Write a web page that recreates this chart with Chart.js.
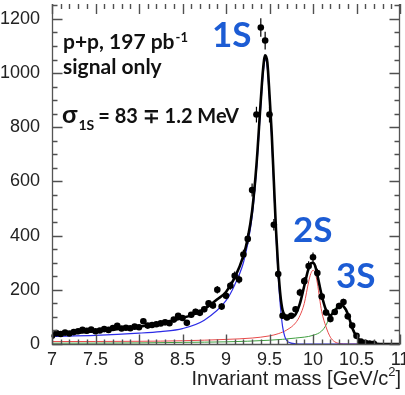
<!DOCTYPE html>
<html><head><meta charset="utf-8">
<script src="https://cdn.jsdelivr.net/npm/chart.js@4"></script>
<style>html,body{margin:0;padding:0;background:#fff;overflow:hidden}#wrap{width:405px;height:395px;position:relative}</style>
</head><body><div id="wrap"><canvas id="c" width="405" height="395"></canvas></div>
<script>
// ---- data ----
const xTicks = [7, 7.5, 8, 8.5, 9, 9.5, 10, 10.5, 11];
const yTicks = [0, 200, 400, 600, 800, 1000, 1200];

const pointX = [7.00,7.05,7.10,7.15,7.20,7.25,7.30,7.35,7.40,7.45,7.50,7.55,7.60,7.65,7.70,7.75,7.80,7.85,7.90,7.95,
  8.00,8.05,8.10,8.15,8.20,8.25,8.30,8.35,8.40,8.45,8.50,8.55,8.60,8.65,8.70,8.75,8.80,8.85,8.90,8.95,
  9.00,9.05,9.10,9.15,9.20,9.25,9.30,9.35,9.40,9.45,9.50,9.55,9.60,9.65,9.70,9.75,9.80,9.85,9.90,9.95,
  10.00,10.05,10.10,10.15,10.20,10.25,10.30,10.35,10.40,10.45,10.50,10.55,10.60,10.65,10.70];
const pointY = [30,40,37,42,39,44,47,52,49,53,47,50,55,52,59,67,57,60,58,64,
  62,84,68,70,73,76,80,77,90,104,96,78,108,119,115,128,150,142,200,138,
  178,215,252,238,330,388,568,847,1168,1120,847,440,258,104,98,104,128,190,232,288,
  320,262,175,116,92,118,140,155,102,68,30,9,4,2,1];
const pointErr = [5,6,6,6,6,7,7,7,7,7,7,7,7,7,8,8,8,8,8,8,
  8,9,8,8,9,9,9,9,9,10,10,9,10,11,11,11,12,12,14,12,
  13,15,16,15,18,20,24,29,34,33,29,21,16,10,10,10,11,14,15,17,
  18,16,13,11,10,11,12,12,10,8,5,3,2,1,1];

const fitX = [7.0,7.25,7.5,7.75,8.0,8.25,8.5,8.65,8.8,8.9,9.0,9.1,9.2,9.25,9.3,9.35,9.4,9.425,9.45,9.475,9.5,9.525,9.55,9.575,9.6,9.625,9.65,9.675,9.7,9.75,9.8,9.85,9.9,9.95,9.975,10.0,10.025,10.05,10.1,10.15,10.2,10.25,10.3,10.325,10.35,10.4,10.45,10.5,10.55,10.6,10.7,10.8,11.0];
const fitTotal = [34,40,47,55,64,76,96,112,140,165,192,245,325,390,490,660,900,1010,1066,1040,920,780,600,420,280,180,125,106,100,100,110,150,215,280,298,300,288,255,180,125,106,122,142,144,140,112,60,28,10,3,1,0,0];

const s1X = [7.0,7.5,8.0,8.25,8.5,8.75,9.0,9.1,9.2,9.25,9.3,9.35,9.4,9.425,9.45,9.475,9.5,9.525,9.55,9.575,9.6,9.625,9.65,9.675,9.7,9.75,9.8,9.9,11.0];
const s1Y = [28,32,40,46,57,88,160,218,300,370,470,640,880,990,1050,1020,900,760,580,400,250,140,65,28,12,3,1,0,0];

const s2X = [7.0,8.0,8.5,9.0,9.3,9.5,9.6,9.7,9.8,9.85,9.9,9.95,9.975,10.0,10.025,10.05,10.075,10.1,10.15,10.2,10.25,10.3,10.4,11.0];
const s2Y = [9,10,12,17,22,30,38,52,78,105,150,230,260,272,262,225,170,120,63,25,8,2,0,0];

const s3X = [7.0,8.0,8.5,9.0,9.5,9.8,10.0,10.1,10.15,10.2,10.25,10.3,10.325,10.35,10.4,10.45,10.5,10.55,10.6,10.7,11.0];
const s3Y = [3,4,6,8,14,22,32,48,70,105,130,140,139,135,108,65,28,9,3,1,0];

// ---- chart ----
const pts = (xs, ys) => xs.map((x, i) => ({x, y: ys[i]}));
const BLUE_TXT = 'rgb(28,92,212)';

function drawFrame(chart) {
  const ctx = chart.ctx;
  const a = chart.chartArea;
  const xs = chart.scales.x, ys = chart.scales.y;
  const L = a.left + 0.5, R = a.right - 0.5, B = a.bottom + 0.5, T = a.top;
  ctx.save();
  ctx.strokeStyle = '#555555';
  ctx.lineWidth = 1.3;
  ctx.beginPath();
  ctx.moveTo(L, T); ctx.lineTo(L, B); ctx.lineTo(R, B); ctx.lineTo(R, T);
  ctx.stroke();
  ctx.lineWidth = 1.4;
  ctx.strokeStyle = '#505050';
  for (let k = 0; k <= 40; k++) {
    const px = Math.round(xs.getPixelForValue(7 + k / 10)) + 0.5;
    const len = (k % 5 === 0) ? 10 : 5;
    ctx.beginPath();
    ctx.moveTo(px, B); ctx.lineTo(px, B - len);
    ctx.moveTo(px, T); ctx.lineTo(px, T + len);
    ctx.stroke();
  }
  for (let k = 0; k <= 25; k++) {
    const py = Math.round(ys.getPixelForValue(k * 50)) + 0.5;
    const len = (k % 4 === 0) ? 10 : 5;
    ctx.beginPath();
    ctx.moveTo(L, py); ctx.lineTo(L + len, py);
    ctx.moveTo(R, py); ctx.lineTo(R - len, py);
    ctx.stroke();
  }
  ctx.restore();
}

function drawErrors(chart) {
  const ctx = chart.ctx;
  const xs = chart.scales.x, ys = chart.scales.y;
  ctx.save();
  ctx.strokeStyle = '#000'; ctx.lineWidth = 1.2;
  ctx.beginPath();
  pointX.forEach((xv, i) => {
    const px = xs.getPixelForValue(xv);
    ctx.moveTo(px, ys.getPixelForValue(pointY[i] - pointErr[i]));
    ctx.lineTo(px, ys.getPixelForValue(pointY[i] + pointErr[i]));
  });
  ctx.stroke();
  ctx.restore();
}

function drawTexts(chart) {
  const ctx = chart.ctx;
  ctx.save();
  ctx.textBaseline = 'alphabetic';
  ctx.textAlign = 'left';
  ctx.fillStyle = '#111';
  ctx.font = 'bold 21px Lato';
  const t = 'p+p, 197 pb';
  ctx.fillText(t, 63, 49);
  const w = ctx.measureText(t).width;
  ctx.font = 'bold 13px Lato';
  ctx.fillText('-1', 63 + w + 1, 42);
  ctx.font = 'bold 21px Lato';
  ctx.fillText('signal only', 63, 74);
  ctx.font = 'bold 25px Lato';
  ctx.fillText('σ', 62, 123);
  let x0 = 62 + ctx.measureText('σ').width + 1;
  ctx.font = 'bold 14px Lato';
  ctx.fillText('1S', x0, 130);
  x0 += ctx.measureText('1S').width + 4;
  ctx.font = 'bold 20px Lato';
  ctx.fillText('= 83 ∓ 1.2 MeV', x0, 123);
  ctx.fillStyle = BLUE_TXT;
  ctx.font = 'bold 35px Lato';
  ctx.fillText('1S', 212, 47);
  ctx.fillText('2S', 293, 242);
  ctx.fillText('3S', 336, 288);
  ctx.fillStyle = '#222';
  const big = '20px "Liberation Sans"', small = '13px "Liberation Sans"';
  ctx.font = big;
  const wb = ctx.measureText(']').width;
  ctx.font = small;
  const ws = ctx.measureText('2').width;
  ctx.font = big;
  const main = 'Invariant mass [GeV/c';
  const wm = ctx.measureText(main).width;
  const right = 401;
  const start = right - wb - ws - wm;
  ctx.fillText(main, start, 385);
  ctx.fillText(']', right - wb, 385);
  ctx.font = small;
  ctx.fillText('2', start + wm, 376);
  ctx.restore();
}

const framePlugin = {
  id: 'frame',
  afterDraw(chart) {
    drawErrors(chart);
    drawFrame(chart);
    drawTexts(chart);
  }
};

const lineDs = (label, xs, ys, color, width) => ({
  label, data: pts(xs, ys), showLine: true, borderColor: color, borderWidth: width,
  pointRadius: 0, pointHoverRadius: 0, fill: false, cubicInterpolationMode: 'monotone'
});

const zeroPad = s => { s.paddingTop = 0; s.paddingBottom = 0; s.paddingLeft = 0; s.paddingRight = 0; };

new Chart(document.getElementById('c'), {
  type: 'scatter',
  data: {
    datasets: [
      {label: 'data', data: pts(pointX, pointY), pointRadius: 3.3, pointBackgroundColor: '#000', pointBorderColor: '#000', pointBorderWidth: 0, showLine: false},
      lineDs('total', fitX, fitTotal, '#000', 2.6),
      lineDs('1S', s1X, s1Y, '#2b2be6', 1.2),
      lineDs('2S', s2X, s2Y, '#e84a4a', 1),
      lineDs('3S', s3X, s3Y, '#3f9f3f', 1)
    ]
  },
  options: {
    responsive: false, animation: false, devicePixelRatio: 1,
    layout: {padding: {left: 0, right: 5, top: 0, bottom: 0}},
    plugins: {legend: {display: false}, tooltip: {enabled: false}},
    scales: {
      x: {
        type: 'linear', min: 7, max: 11,
        afterBuildTicks: s => { s.ticks = xTicks.map(v => ({value: v})); },
        afterFit: s => { s.height = 51; zeroPad(s); },
        grid: {display: false}, border: {display: false},
        ticks: {autoSkip: false, maxRotation: 0, padding: -3, color: '#222',
          font: {family: 'Liberation Sans', size: 18}, callback: v => String(v)}
      },
      y: {
        type: 'linear', min: 0, max: 1255,
        afterBuildTicks: s => { s.ticks = yTicks.map(v => ({value: v})); },
        afterFit: s => { s.width = 52; zeroPad(s); },
        grid: {display: false}, border: {display: false},
        ticks: {padding: 4, color: '#222', font: {family: 'Liberation Sans', size: 18}, callback: v => String(v)}
      }
    }
  },
  plugins: [framePlugin]
});
</script></body></html>
